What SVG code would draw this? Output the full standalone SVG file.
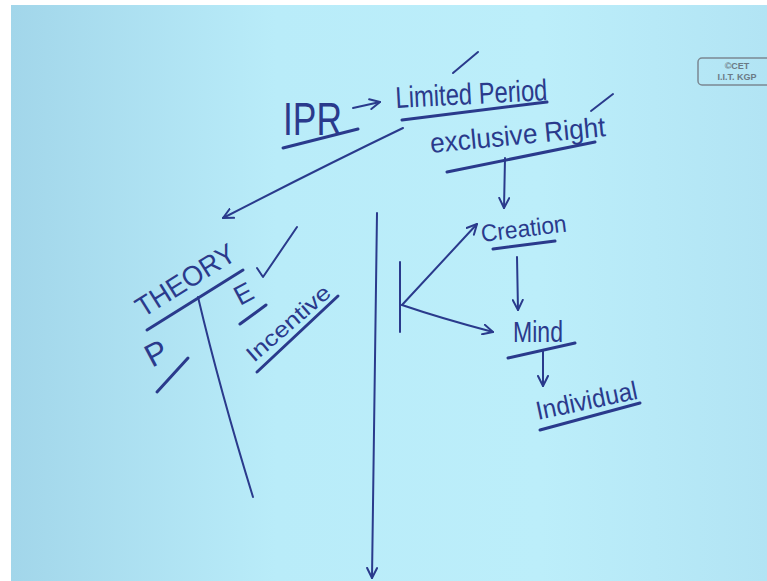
<svg xmlns="http://www.w3.org/2000/svg" width="767" height="581" viewBox="0 0 767 581">
<style>
.ink{fill:#2a3a8c;font-family:"Liberation Sans","DejaVu Sans",sans-serif;}
.ln{stroke:#2a3a8c;stroke-width:2;fill:none;stroke-linecap:round;stroke-linejoin:round;}
.ul{stroke:#2a3a8c;stroke-width:3;fill:none;stroke-linecap:round;}
.logo{fill:#6b7a86;font-family:"Liberation Sans",sans-serif;font-weight:bold;font-size:9px;text-anchor:middle;}
</style>
<defs>
<linearGradient id="bg" x1="0" y1="0" x2="1" y2="0">
<stop offset="0" stop-color="#a2d6ea"/>
<stop offset="0.35" stop-color="#b9ecf9"/>
<stop offset="0.7" stop-color="#bceefa"/>
<stop offset="1" stop-color="#b2e4f4"/>
</linearGradient>
<marker id="ah" viewBox="0 0 12 12" refX="11" refY="6" markerWidth="12" markerHeight="12" markerUnits="userSpaceOnUse" orient="auto">
<polyline points="1,1 11,6 1,11" fill="none" stroke="#2a3a8c" stroke-width="2" stroke-linecap="round" stroke-linejoin="round"/>
</marker>
</defs>
<rect x="0" y="0" width="767" height="581" fill="#ffffff"/>
<rect x="11" y="5" width="756" height="576" fill="url(#bg)"/>

<g id="logo">
<rect x="698" y="58" width="80" height="27" rx="4" fill="none" stroke="#7b8892" stroke-width="1.5"/>
<text class="logo" x="737" y="69">©CET</text>
<text class="logo" x="737" y="80">I.I.T. KGP</text>
</g>

<g id="ipr">
<text class="ink" x="283" y="135" font-size="46" textLength="59" lengthAdjust="spacingAndGlyphs">IPR</text>
<line class="ul" x1="283" y1="148" x2="358" y2="129"/>
</g>

<g id="limited-period">
<text class="ink" x="396" y="108" font-size="30" textLength="152" lengthAdjust="spacingAndGlyphs" transform="rotate(-3 396 108)">Limited Period</text>
<line class="ul" x1="402" y1="120" x2="547" y2="102"/>
<line class="ln" x1="453" y1="73" x2="478" y2="52"/>
</g>

<g id="exclusive-right">
<text class="ink" x="431" y="153" font-size="28" textLength="176" lengthAdjust="spacingAndGlyphs" transform="rotate(-5.5 431 153)">exclusive Right</text>
<line class="ul" x1="447" y1="172" x2="595" y2="142"/>
<line class="ln" x1="591" y1="111" x2="613" y2="94"/>
</g>

<g id="creation">
<text class="ink" x="482" y="242" font-size="24" textLength="86" lengthAdjust="spacingAndGlyphs" transform="rotate(-7 482 242)">Creation</text>
<line class="ul" x1="493" y1="249" x2="555" y2="241"/>
</g>

<g id="mind">
<text class="ink" x="513" y="342" font-size="30" textLength="50" lengthAdjust="spacingAndGlyphs">Mind</text>
<line class="ul" x1="508" y1="358" x2="575" y2="343"/>
</g>

<g id="individual">
<text class="ink" x="538" y="420" font-size="26" textLength="103" lengthAdjust="spacingAndGlyphs" transform="rotate(-12 538 420)">Individual</text>
<line class="ul" x1="540" y1="430" x2="640" y2="403"/>
</g>

<g id="theory">
<text class="ink" x="143" y="318" font-size="28" textLength="112" lengthAdjust="spacingAndGlyphs" transform="rotate(-32 143 318)">THEORY</text>
<line class="ul" x1="147" y1="330" x2="243" y2="270"/>
</g>

<g id="p">
<text class="ink" x="152" y="368" font-size="32" transform="rotate(-28 152 368)">P</text>
<line class="ul" x1="157" y1="392" x2="188" y2="358"/>
</g>

<g id="e">
<text class="ink" x="240" y="306" font-size="27" transform="rotate(-28 240 306)">E</text>
<line class="ul" x1="240" y1="324" x2="266" y2="305" stroke-width="5"/>
<polyline class="ln" points="257,268 263,277 297,227"/>
</g>

<g id="incentive">
<text class="ink" x="254" y="363" font-size="22" textLength="104" lengthAdjust="spacingAndGlyphs" transform="rotate(-41 254 363)">Incentive</text>
<line class="ul" x1="257" y1="372" x2="338" y2="296"/>
</g>

<g id="bracket">
<line class="ln" x1="400" y1="262" x2="400" y2="332"/>
</g>

<g id="connectors">
<line class="ln" x1="353" y1="108" x2="380" y2="102" marker-end="url(#ah)"/>
<path class="ln" d="M403,128 Q320,168 223,218" marker-end="url(#ah)"/>
<line class="ln" x1="505" y1="158" x2="504" y2="208" marker-end="url(#ah)"/>
<line class="ln" x1="517" y1="257" x2="518" y2="310" marker-end="url(#ah)"/>
<line class="ln" x1="543" y1="350" x2="543" y2="386" marker-end="url(#ah)"/>
<line class="ln" x1="402" y1="305" x2="477" y2="224" marker-end="url(#ah)" stroke-width="2.5"/>
<path class="ln" d="M402,305 Q440,318 493,332" marker-end="url(#ah)" stroke-width="2.5"/>
<path class="ln" d="M377,213 Q374,400 372,578" marker-end="url(#ah)"/>
<path class="ln" d="M198,297 Q220,390 253,497"/>
</g>
</svg>
